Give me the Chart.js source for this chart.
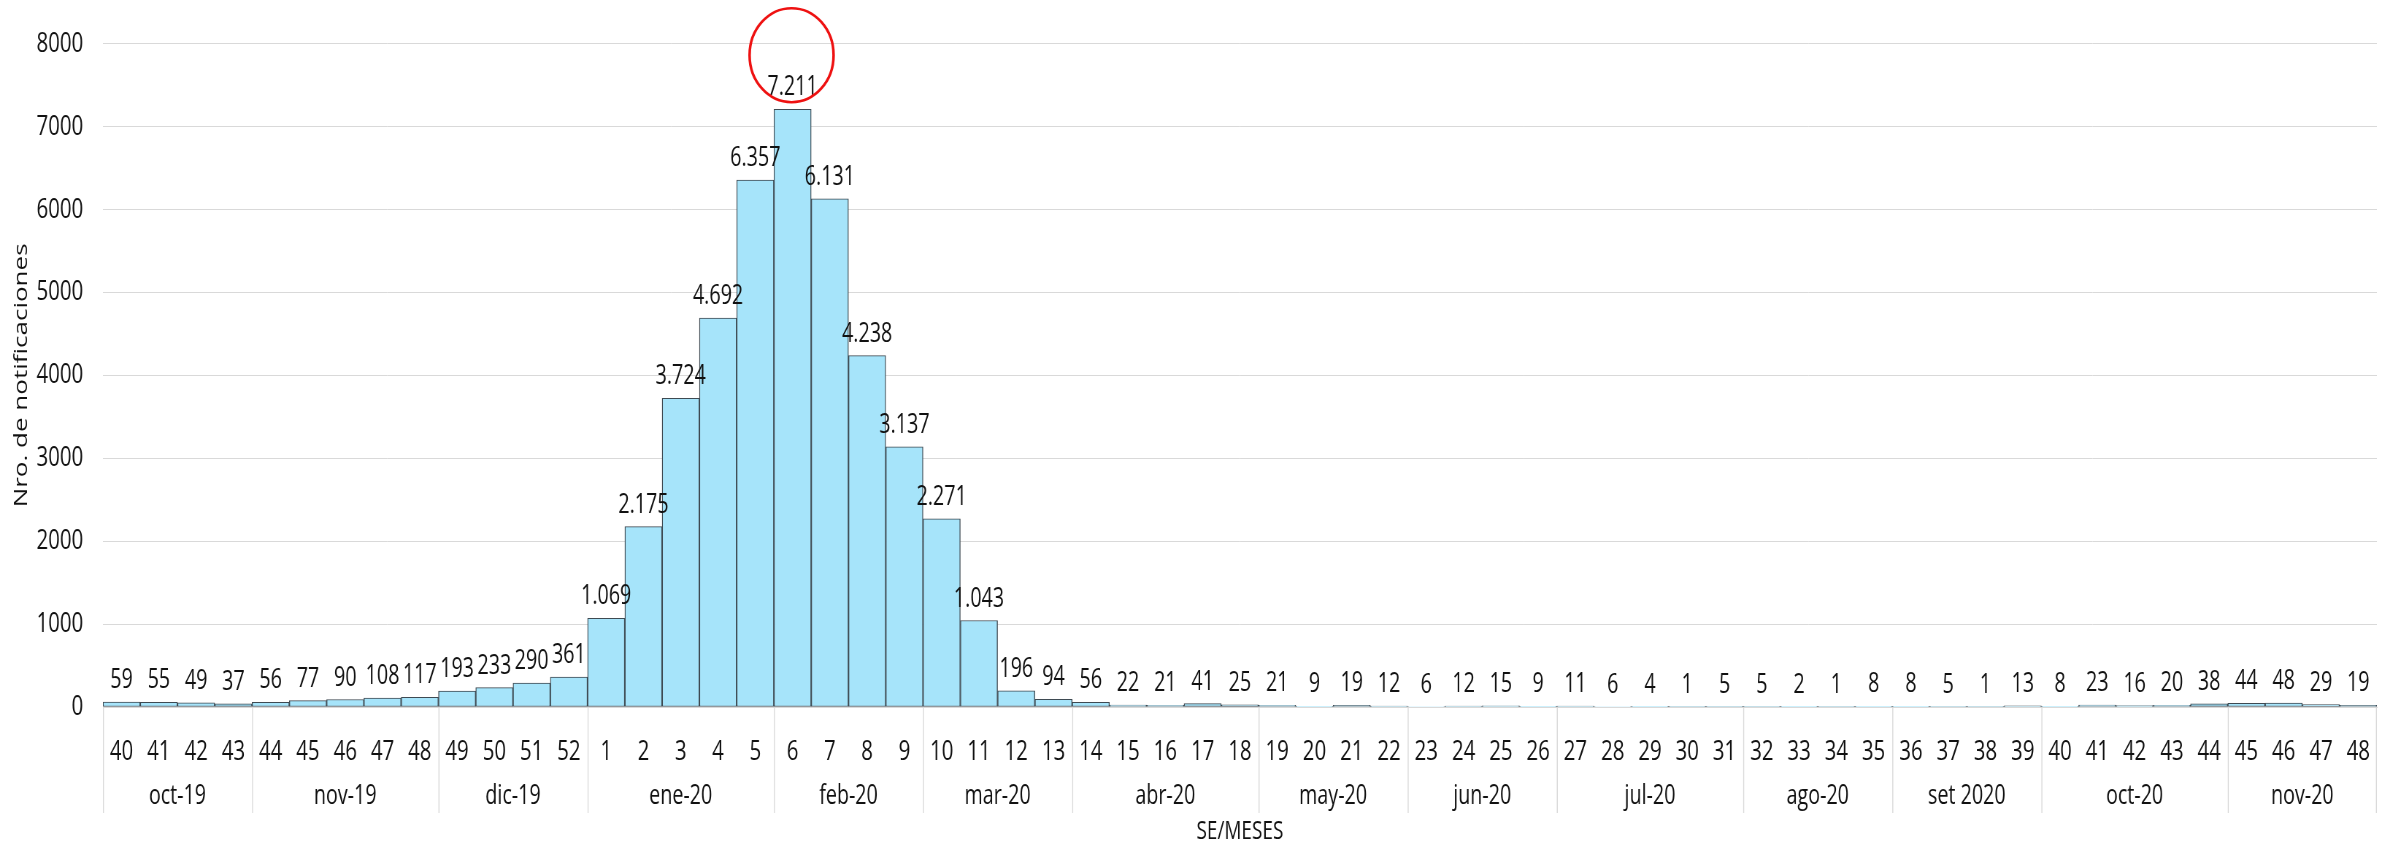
<!DOCTYPE html>
<html lang="es">
<head>
<meta charset="utf-8">
<title>Notificaciones por SE</title>
<script src="https://cdn.jsdelivr.net/npm/chart.js@4.4.0/dist/chart.umd.min.js"></script>
<style>
  html, body { margin:0; padding:0; background:#fff; overflow:hidden; }
  #frame { width:2396px; height:846px; overflow:hidden; }
  /* the original picture is squeezed horizontally: draw wide, then squeeze */
  #wrap { width:3282px; height:846px; transform:scaleX(0.73); transform-origin:0 0; }
</style>
</head>
<body>
<div id="frame"><div id="wrap"><canvas id="c"></canvas></div></div>
<script>
// Datos: semanas epidemiológicas (SE) y notificaciones
const weeks = [
  '40','41','42','43',
  '44','45','46','47','48',
  '49','50','51','52',
  '1','2','3','4','5',
  '6','7','8','9',
  '10','11','12','13',
  '14','15','16','17','18',
  '19','20','21','22',
  '23','24','25','26',
  '27','28','29','30','31',
  '32','33','34','35',
  '36','37','38','39',
  '40','41','42','43','44',
  '45','46','47','48'
];
const counts = [
  59, 55, 49, 37,
  56, 77, 90, 108, 117,
  193, 233, 290, 361,
  1069, 2175, 3724, 4692, 6357,
  7211, 6131, 4238, 3137,
  2271, 1043, 196, 94,
  56, 22, 21, 41, 25,
  21, 9, 19, 12,
  6, 12, 15, 9,
  11, 6, 4, 1, 5,
  5, 2, 1, 8,
  8, 5, 1, 13,
  8, 23, 16, 20, 38,
  44, 48, 29, 19
];
const months = ['oct-19','nov-19','dic-19','ene-20','feb-20','mar-20','abr-20','may-20','jun-20','jul-20','ago-20','set 2020','oct-20','nov-20'];
const weeksPerMonth = [4, 5, 4, 5, 4, 4, 5, 4, 4, 5, 4, 4, 5, 4];
const yTicks = [0, 1000, 2000, 3000, 4000, 5000, 6000, 7000, 8000];
const highlightWeek = 18; // índice de la SE 6 (pico)

const K = 0.73;               // compresión horizontal
const FONT = "'Open Sans', sans-serif";
const TXT = '#111111';
const GRID = '#d9d9d9';

// formato con punto de miles: 7211 -> 7.211
const fmt = n => String(n).replace(/\B(?=(\d{3})+(?!\d))/g, '.');

// etiquetas de valor sobre cada barra
const valueLabels = {
  id:'valueLabels',
  afterDatasetsDraw(chart){
    const {ctx} = chart;
    const meta = chart.getDatasetMeta(0);
    ctx.save();
    ctx.font = `27px ${FONT}`;
    ctx.fillStyle = TXT;
    ctx.textAlign = 'center';
    ctx.textBaseline = 'alphabetic';
    meta.data.forEach((bar, i)=>{
      ctx.fillText(fmt(counts[i]), bar.x, bar.y - 14);
    });
    ctx.restore();
  }
};

// segundo nivel del eje X: meses + separadores
const monthAxis = {
  id:'monthAxis',
  afterDraw(chart){
    const {ctx, chartArea} = chart;
    const x = chart.scales.x;
    const base = chartArea.bottom;
    const edge = i => {
      if(i <= 0) return chartArea.left;
      if(i >= weeks.length) return chartArea.right;
      return (x.getPixelForValue(i-1) + x.getPixelForValue(i)) / 2;
    };
    const vline = px => {
      ctx.beginPath(); ctx.moveTo(px, base); ctx.lineTo(px, base + 106); ctx.stroke();
    };
    ctx.save();
    ctx.strokeStyle = GRID;
    ctx.lineWidth = 1 / K;
    ctx.font = `27px ${FONT}`;
    ctx.fillStyle = TXT;
    ctx.textAlign = 'center';
    ctx.textBaseline = 'middle';
    let start = 0;
    months.forEach((m, k)=>{
      const end = start + weeksPerMonth[k];
      vline(edge(start) + 0.5 / K);
      ctx.fillText(m, (x.getPixelForValue(start) + x.getPixelForValue(end-1)) / 2, base + 89);
      start = end;
    });
    vline(edge(weeks.length) - 0.5 / K);
    ctx.restore();
  }
};

// círculo rojo sobre el pico
const peakCircle = {
  id:'peakCircle',
  afterDraw(chart){
    const bar = chart.getDatasetMeta(0).data[highlightWeek];
    const {ctx} = chart;
    ctx.save();
    ctx.translate(bar.x - 1 / K, bar.y - 54);
    ctx.scale(1 / K, 1);
    ctx.strokeStyle = '#ee1111';
    ctx.lineWidth = 2.6;
    ctx.beginPath();
    ctx.ellipse(0, 0, 42, 47, 0, 0, Math.PI*2);
    ctx.stroke();
    ctx.restore();
  }
};

new Chart(document.getElementById('c'), {
  type:'bar',
  data:{
    labels: weeks,
    datasets:[{
      data: counts,
      backgroundColor:'#a6e4fa',
      borderColor:'#3e4a52',
      borderWidth:{ top:1, bottom:1, left:1 / K, right:1 / K },
      borderSkipped:false,
      barPercentage:1,
      categoryPercentage:1
    }]
  },
  options:{
    responsive:true,
    maintainAspectRatio:false,
    animation:false,
    layout:{ padding:{ top:43, right:26, bottom:0, left:0 } },
    plugins:{ legend:{display:false}, tooltip:{enabled:false} },
    scales:{
      x:{
        offset:true,
        grid:{ display:false },
        border:{ display:true, color:GRID, width:1 },
        ticks:{
          autoSkip:false, maxRotation:0, padding:20,
          color:TXT, font:{ family:FONT, size:28, lineHeight:1.2 }
        },
        title:{
          display:true, text:'SE/MESES', color:TXT,
          font:{ family:FONT, size:26, lineHeight:1 },
          padding:{ top:0, bottom:1.5 }
        },
        afterFit(s){ s.height = 139; }
      },
      y:{
        min:0, max:8000,
        afterBuildTicks(s){ s.ticks = yTicks.map(v=>({value:v})); },
        grid:{ color:GRID, lineWidth:1, drawTicks:false },
        border:{ display:false },
        ticks:{
          padding:27, color:TXT,
          font:{ family:FONT, size:28, lineHeight:1.2 },
          callback:v=>String(v)
        },
        title:{
          display:true, text:'Nro. de notificaciones', color:TXT,
          font:{ family:FONT, size:26, lineHeight:1 },
          padding:{ top:17, bottom:0 }
        },
        afterFit(s){ s.width = 141; }
      }
    }
  },
  plugins:[valueLabels, monthAxis, peakCircle]
});
</script>
</body>
</html>
